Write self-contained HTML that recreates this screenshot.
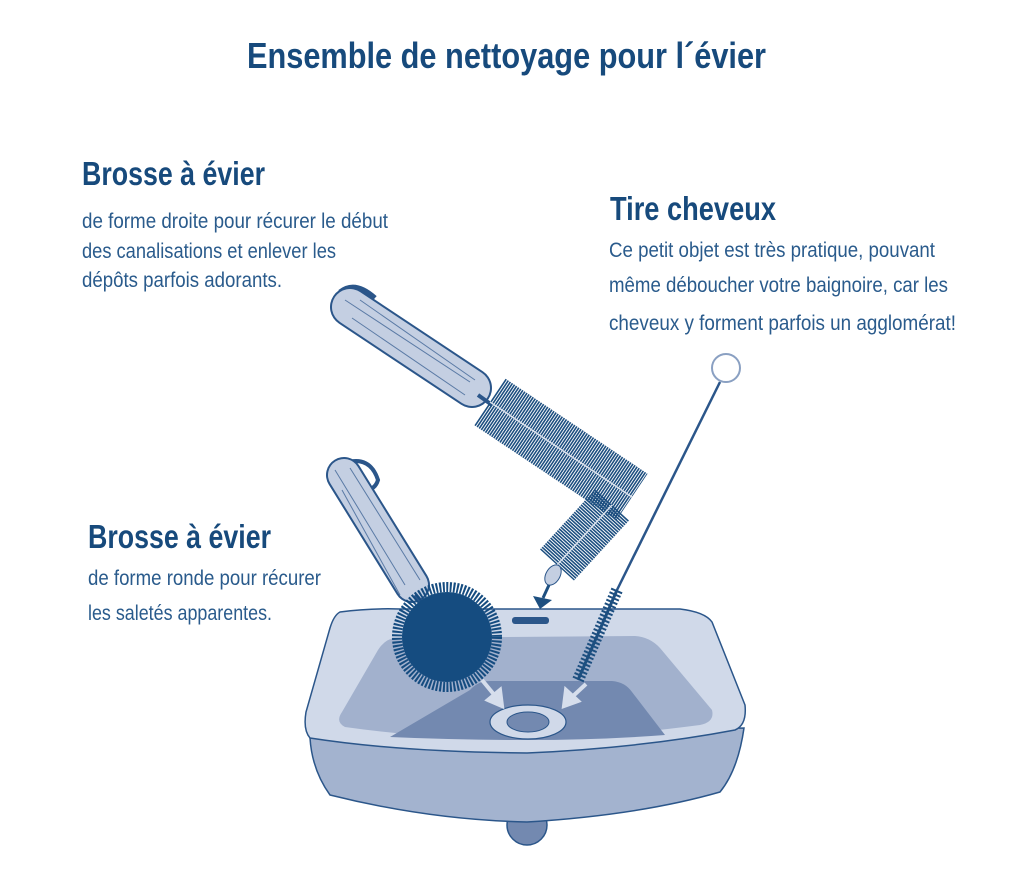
<!DOCTYPE html>
<html><head><meta charset="utf-8"><style>
html,body{margin:0;padding:0;background:#fff;}
svg{display:block;}
text{font-family:"Liberation Sans",sans-serif;}
.t{fill:#174a7c;font-weight:bold;}
.b{fill:#2a5b8c;font-size:21px;}
</style></head><body>
<svg width="1024" height="885" viewBox="0 0 1024 885" xmlns="http://www.w3.org/2000/svg">
<text class="t" x="247" y="68" font-size="36" textLength="519" lengthAdjust="spacingAndGlyphs">Ensemble de nettoyage pour l´évier</text>
<text class="t" x="82" y="185" font-size="33" textLength="183" lengthAdjust="spacingAndGlyphs">Brosse à évier</text>
<text class="b" x="82" y="228" textLength="306" lengthAdjust="spacingAndGlyphs">de forme droite pour récurer le début</text>
<text class="b" x="82" y="258" textLength="254" lengthAdjust="spacingAndGlyphs">des canalisations et enlever les</text>
<text class="b" x="82" y="287" textLength="200" lengthAdjust="spacingAndGlyphs">dépôts parfois adorants.</text>
<text class="t" x="610" y="220" font-size="33" textLength="166" lengthAdjust="spacingAndGlyphs">Tire cheveux</text>
<text class="b" x="609" y="257" textLength="326" lengthAdjust="spacingAndGlyphs">Ce petit objet est très pratique, pouvant</text>
<text class="b" x="609" y="292" textLength="339" lengthAdjust="spacingAndGlyphs">même déboucher votre baignoire, car les</text>
<text class="b" x="609" y="330" textLength="347" lengthAdjust="spacingAndGlyphs">cheveux y forment parfois un agglomérat!</text>
<text class="t" x="88" y="548" font-size="33" textLength="183" lengthAdjust="spacingAndGlyphs">Brosse à évier</text>
<text class="b" x="88" y="585" textLength="233" lengthAdjust="spacingAndGlyphs">de forme ronde pour récurer</text>
<text class="b" x="88" y="620" textLength="184" lengthAdjust="spacingAndGlyphs">les saletés apparentes.</text>

<!-- sink -->
<circle cx="527" cy="825" r="20" fill="#7389b0" stroke="#2b568a" stroke-width="1.5"/>
<path d="M310,738 Q312,770 330,795 Q430,820 527,822 Q640,815 720,792 Q738,770 744,728 Z" fill="#a3b3cf" stroke="#2b568a" stroke-width="1.5"/>
<path d="M340,612 Q370,608 400,609 L680,609 Q705,612 712,622 L745,705 Q747,725 735,730 Q640,748 527,753 Q400,752 310,738 Q303,730 306,712 L330,628 Q334,615 340,612 Z" fill="#d0d9e9" stroke="#2b568a" stroke-width="1.5"/>
<path d="M395,638 L635,636 Q650,637 660,648 L712,710 Q715,722 700,725 Q600,738 527,740 Q430,739 345,727 Q335,722 342,712 L378,650 Q385,639 395,638 Z" fill="#a2b1cd"/>
<path d="M490,681 L612,681 Q625,682 632,692 L665,735 Q600,740 527,740 Q455,740 390,737 L470,690 Q478,681 490,681 Z" fill="#7389b0"/>
<ellipse cx="528" cy="722" rx="38" ry="17" fill="#d0d9e9" stroke="#2b568a" stroke-width="1.2"/>
<ellipse cx="528" cy="722" rx="21" ry="10" fill="#7389b0" stroke="#2b568a" stroke-width="1"/>
<rect x="512" y="617" width="37" height="7" rx="3" fill="#2b568a"/>
<!-- light arrows -->
<g stroke="#d6deec" stroke-width="4" fill="#d6deec">
<line x1="482" y1="680" x2="496" y2="697"/><polygon points="488,700 502,706 500,690"/>
<line x1="586" y1="684" x2="572" y2="697"/><polygon points="566,690 564,706 578,701"/>
</g>

<!-- long brush -->
<path d="M345,290 Q330,300 345,315" stroke="#2b568a" stroke-width="5" fill="none"/>
<path d="M340,292 Q355,280 375,298" stroke="#2b568a" stroke-width="5" fill="none"/>
<line x1="350" y1="307" x2="472" y2="388" stroke="#2b568a" stroke-width="40" stroke-linecap="round"/>
<line x1="350" y1="307" x2="472" y2="388" stroke="#c4cfe2" stroke-width="36" stroke-linecap="round"/>
<g stroke="#5a7aa5" stroke-width="1" fill="none">
<path d="M345,300 L470,382"/><path d="M352,318 L465,395"/><path d="M360,300 L475,380"/>
</g>
<line x1="478" y1="395" x2="492" y2="405" stroke="#2b568a" stroke-width="4"/>
<line x1="490" y1="402" x2="632" y2="497" stroke="#1d4f80" stroke-width="56" stroke-dasharray="1.6 0.9"/>
<line x1="490" y1="402" x2="632" y2="497" stroke="#d8e0ec" stroke-width="1.5"/>
<line x1="612" y1="505" x2="557" y2="565" stroke="#1d4f80" stroke-width="46" stroke-dasharray="1.6 0.9"/>
<line x1="612" y1="505" x2="557" y2="565" stroke="#d8e0ec" stroke-width="1.5"/>
<ellipse cx="553" cy="575" rx="7" ry="11" fill="#c4cfe2" stroke="#2b568a" transform="rotate(30 553 575)"/>
<line x1="549" y1="585" x2="543" y2="598" stroke="#1d4f80" stroke-width="3"/>
<polygon points="533,596 552,600 540,609" fill="#1d4f80"/>

<!-- round brush -->
<path d="M345,463 Q370,455 378,480 Q375,490 365,490" stroke="#2b568a" stroke-width="4" fill="none"/>
<line x1="344" y1="475" x2="412" y2="585" stroke="#2b568a" stroke-width="36" stroke-linecap="round"/>
<line x1="344" y1="475" x2="412" y2="585" stroke="#c4cfe2" stroke-width="32" stroke-linecap="round"/>
<g stroke="#5a7aa5" stroke-width="1"><path d="M335,470 L405,585"/><path d="M350,468 L420,580"/><path d="M342,490 L400,595"/></g>
<line x1="415" y1="595" x2="428" y2="610" stroke="#2b568a" stroke-width="5"/>
<circle cx="447" cy="637" r="45" fill="#154c80"/>
<circle cx="447" cy="637" r="50" fill="none" stroke="#154c80" stroke-width="10" stroke-dasharray="2 1.5"/>

<!-- tire cheveux -->
<circle cx="726" cy="368" r="14" fill="#fff" stroke="#8aa0c2" stroke-width="2"/>
<line x1="720" y1="382" x2="616" y2="592" stroke="#2b568a" stroke-width="2.5"/>
<line x1="617" y1="590" x2="578" y2="680" stroke="#1d4f80" stroke-width="12" stroke-dasharray="2 2"/>
<line x1="617" y1="590" x2="578" y2="680" stroke="#1d4f80" stroke-width="3"/>
</svg>
</body></html>
